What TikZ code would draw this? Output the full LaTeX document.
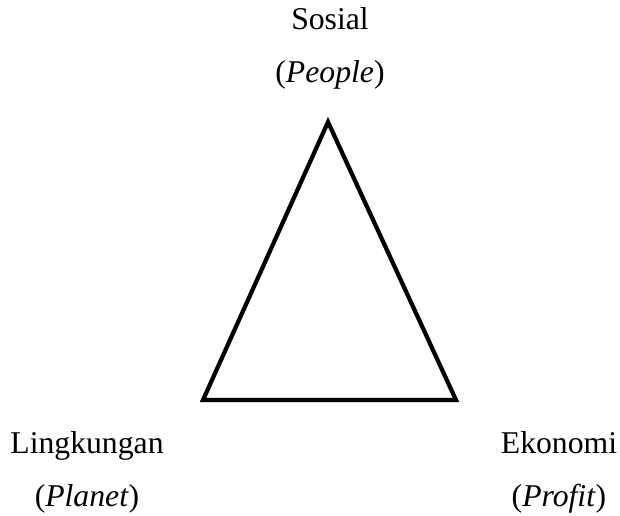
\documentclass[tikz,border=0pt]{standalone}
\usepackage{fontspec}
\setmainfont{Liberation Serif}
\usepackage{tikz}

\begin{document}
\begin{tikzpicture}[x=0.0133cm, y=-0.0133cm, every node/.style={align=center, font=\fontsize{12}{20.1}\selectfont}]
          \useasboundingbox (0, 0) rectangle (620, 515);
          \coordinate (S) at (328, 122);
          \coordinate (L) at (203, 400);
          \coordinate (E) at (456, 400);
          \draw[line width=1.6pt, line join=miter] (S) -- (L) -- (E) -- cycle;

          \node (sosial) at (330, 48) {Sosial\\(\textit{People})};
          \node (lingkungan) at (87, 472) {Lingkungan\\(\textit{Planet})};
          \node (ekonomi) at (559, 472) {Ekonomi\\(\textit{Profit})};
        \end{tikzpicture}
\end{document}
